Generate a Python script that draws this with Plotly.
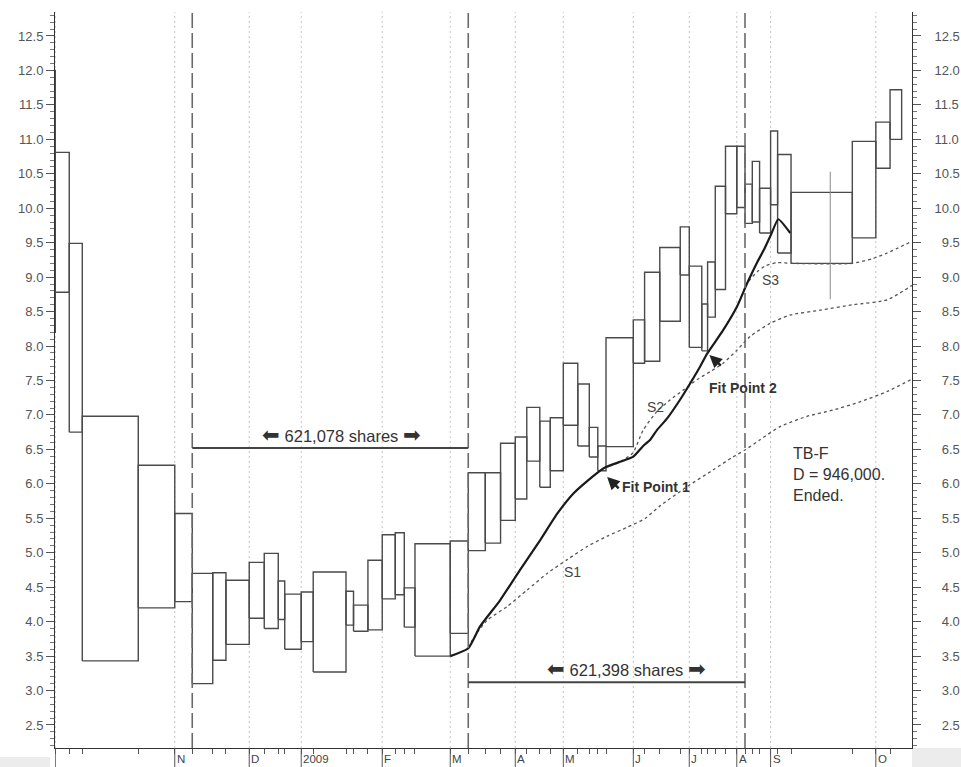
import plotly.graph_objects as go
import numpy as np

# ---------------- data ----------------
# Equivolume boxes: volume (thousand shares) = box width, high / low price
volume = [20.0, 31.5, 29.3, 126.0, 82.1, 39.4, 46.1, 29.7, 52.4, 33.8, 31.5, 14.6, 37.1, 27.0,
          73.8, 16.9, 32.4, 32.2, 29.3, 20.3, 24.1, 79.4, 40.5, 38.3, 34.4, 33.1, 25.9, 29.3,
          23.6, 29.3, 32.6, 25.9, 19.1, 18.5, 61.4, 25.4, 34.2, 46.1, 20.3, 28.1, 13.1, 17.3,
          23.0, 25.4, 18.5, 16.4, 16.4, 24.8, 15.8, 30.2, 137.9, 52.9, 32.0, 26.1]
high = [12.00, 10.81, 9.49, 6.98, 6.27, 5.57, 4.70, 4.71, 4.60, 4.86, 4.99, 4.59, 4.40, 4.43,
        4.72, 4.44, 4.24, 4.89, 5.26, 5.29, 4.49, 5.13, 5.17, 6.16, 6.16, 6.59, 6.68, 7.11,
        6.91, 6.96, 7.75, 7.45, 6.82, 6.55, 8.12, 8.38, 9.07, 9.43, 9.73, 9.16, 8.61, 9.22,
        10.32, 10.90, 10.90, 10.35, 10.68, 10.29, 11.12, 10.78, 10.23, 10.97, 11.25, 11.72]
low = [8.20, 8.78, 6.75, 3.43, 4.20, 4.29, 3.10, 3.44, 3.67, 4.05, 3.90, 4.03, 3.60, 3.71,
       3.27, 3.95, 3.86, 3.88, 4.33, 4.39, 3.92, 3.50, 3.83, 5.03, 5.14, 5.47, 5.78, 6.33,
       5.95, 6.19, 6.85, 6.55, 6.39, 6.19, 6.54, 7.75, 7.78, 8.36, 9.03, 7.98, 7.93, 8.42,
       8.82, 9.92, 10.01, 9.78, 9.80, 9.64, 10.05, 9.35, 9.20, 9.57, 10.58, 11.00]

# month labels and the box index where each month starts
month_labels = ["", "N", "D", "2009", "F", "M", "A", "M", "J", "J", "A", "S", "O"]
month_box = [1, 5, 9, 13, 18, 22, 26, 30, 35, 39, 44, 48, 52]

# dashed count boundaries (box index) and share counts between them
count_box = [6, 23, 45]
count_text = ["621,078 shares", "621,398 shares"]

# price tick values
price_ticks = [2.5, 3.0, 3.5, 4.0, 4.5, 5.0, 5.5, 6.0, 6.5, 7.0, 7.5, 8.0, 8.5, 9.0, 9.5,
               10.0, 10.5, 11.0, 11.5, 12.0, 12.5]

# fitted curve (cumulative volume, price)
fit_x = [889, 929, 956, 1001, 1046, 1091, 1130, 1166, 1197, 1235, 1271, 1300, 1323, 1339, 1354,
         1377, 1406, 1429, 1451, 1467, 1503, 1534, 1557, 1580, 1595, 1611, 1627, 1654]
fit_y = [3.50, 3.61, 3.93, 4.31, 4.75, 5.18, 5.57, 5.86, 6.04, 6.23, 6.32, 6.39, 6.55, 6.64, 6.78,
         6.95, 7.22, 7.46, 7.70, 7.89, 8.23, 8.57, 8.91, 9.22, 9.40, 9.62, 9.84, 9.64]

s1_x = [929, 945, 972, 1017, 1062, 1107, 1152, 1197, 1242, 1287, 1328, 1361, 1422, 1480, 1525,
        1552, 1586, 1631, 1692, 1750, 1811, 1872, 1928]
s1_y = [3.62, 3.80, 4.02, 4.22, 4.46, 4.70, 4.90, 5.09, 5.24, 5.37, 5.50, 5.68, 5.96, 6.20, 6.39,
        6.49, 6.64, 6.83, 6.98, 7.07, 7.19, 7.34, 7.52]

s2_x = [1235, 1271, 1300, 1323, 1354, 1384, 1413, 1444, 1474, 1503, 1534, 1564, 1609, 1654, 1721,
        1796, 1872, 1928]
s2_y = [6.23, 6.32, 6.45, 6.78, 7.05, 7.22, 7.36, 7.51, 7.63, 7.75, 7.94, 8.14, 8.33, 8.45, 8.52,
        8.60, 8.67, 8.88]

s3_x = [1467, 1503, 1534, 1557, 1580, 1597, 1624, 1656, 1793, 1840, 1872, 1928]
s3_y = [7.89, 8.23, 8.57, 8.91, 9.08, 9.16, 9.21, 9.20, 9.20, 9.27, 9.35, 9.52]

cursor_x = 1744
cursor_y = [8.68, 10.53]

# ---------------- geometry from data ----------------
vol = np.array(volume)
left = -vol[0] + np.concatenate([[0.0], np.cumsum(vol)[:-1]])
right = left + vol

X_MAX = 1928
Y_MIN, Y_MAX = 2.166, 12.848
ML, MR, MT, MB = 55, 49, 12, 19
W, H = 961, 767
PW, PH = W - ML - MR, H - MT - MB

FONT = "Liberation Sans, Arial, sans-serif"
DARK = "#333333"

bx, by = [], []
for l, r, h, lo in zip(left, right, high, low):
    bx += [l, r, r, l, l, None]
    by += [lo, lo, h, h, lo, None]

fig = go.Figure()

fig.add_trace(go.Scatter(x=bx, y=by, mode="lines",
                         line=dict(color="#4a4a4a", width=1.4), hoverinfo="skip"))
fig.add_trace(go.Scatter(x=[cursor_x, cursor_x], y=cursor_y, mode="lines",
                         line=dict(color="#888888", width=1), hoverinfo="skip"))
for sx, sy in [(s1_x, s1_y), (s2_x, s2_y), (s3_x, s3_y)]:
    fig.add_trace(go.Scatter(x=sx, y=sy, mode="lines",
                             line=dict(color="#555555", width=1.3, dash="3px,3px", shape="spline",
                                       smoothing=0.6),
                             hoverinfo="skip"))
fig.add_trace(go.Scatter(x=fit_x, y=fit_y, mode="lines",
                         line=dict(color="#1a1a1a", width=2.2, shape="spline", smoothing=0.5),
                         hoverinfo="skip"))
# invisible trace to display right axis
fig.add_trace(go.Scatter(x=[None], y=[None], yaxis="y2", showlegend=False))

shapes = []
# month grid + long ticks
for mb in month_box:
    xm = left[mb]
    shapes.append(dict(type="line", xref="x", yref="paper", x0=xm, x1=xm, y0=0, y1=1,
                       line=dict(color="#c4c4c4", width=1, dash="2px,3px"), layer="below"))
    shapes.append(dict(type="line", xref="x", yref="paper", x0=xm, x1=xm, y0=0, y1=-MB / PH,
                       line=dict(color="#555555", width=1)))
# dashed count boundaries
for cb in count_box:
    xc = left[cb]
    shapes.append(dict(type="line", xref="x", yref="paper", x0=xc, x1=xc, y0=0, y1=1,
                       line=dict(color="#6a6a6a", width=1.6, dash="15px,5px")))
# share count brackets
bracket_y = [6.52, 3.12]
for i in range(2):
    shapes.append(dict(type="line", xref="x", yref="y", x0=left[count_box[i]], x1=left[count_box[i + 1]],
                       y0=bracket_y[i], y1=bracket_y[i], line=dict(color="#444444", width=2)))
# gray corners below axis
shapes.append(dict(type="rect", xref="paper", yref="paper", x0=-ML / PW, x1=-5 / PW,
                   y0=-MB / PH, y1=-9 / PH, fillcolor="#ececec", line=dict(width=0), layer="below"))
shapes.append(dict(type="rect", xref="paper", yref="paper", x0=1.0, x1=1 + MR / PW,
                   y0=-MB / PH, y1=0, fillcolor="#ececec", line=dict(width=0), layer="below"))

annotations = []
for lab, mb in zip(month_labels, month_box):
    if lab:
        annotations.append(dict(x=left[mb], y=0, xref="x", yref="paper", text=lab, showarrow=False,
                                xanchor="left", yanchor="top", xshift=1, yshift=-4, borderpad=0,
                                font=dict(family=FONT, size=11.5, color="#444444")))

label_x = [645, 1286]
label_y = [6.72, 3.32]
for i in range(2):
    annotations.append(dict(x=label_x[i], y=label_y[i], xref="x", yref="y",
                            text="<span style='font-size:21px'>⬅</span> " + count_text[i]
                                 + " <span style='font-size:21px'>➡</span>",
                            showarrow=False,
                            font=dict(family=FONT, size=16.5, color=DARK)))

for t, xx, yy in [("S1", 1164, 4.72), ("S2", 1350, 7.12), ("S3", 1609, 8.96)]:
    annotations.append(dict(x=xx, y=yy, xref="x", yref="y", text=t, showarrow=False,
                            font=dict(family=FONT, size=14, color="#444444")))

annotations.append(dict(x=1271, y=5.95, xref="x", yref="y", text="<b>Fit Point 1</b>", showarrow=False,
                        xanchor="left", font=dict(family=FONT, size=14, color=DARK)))
annotations.append(dict(x=1466, y=7.39, xref="x", yref="y", text="<b>Fit Point 2</b>", showarrow=False,
                        xanchor="left", font=dict(family=FONT, size=14, color=DARK)))
# arrows
annotations.append(dict(x=1242, y=6.10, xref="x", yref="y", ax=13, ay=13, text="", showarrow=True,
                        arrowhead=2, arrowsize=1, arrowwidth=2.5, arrowcolor="#222222", standoff=0))
annotations.append(dict(x=1472, y=7.87, xref="x", yref="y", ax=13, ay=12, text="", showarrow=True,
                        arrowhead=2, arrowsize=1, arrowwidth=2.5, arrowcolor="#222222", standoff=0))

annotations.append(dict(x=1656, y=6.13, xref="x", yref="y", text="TB-F<br>D = 946,000.<br>Ended.",
                        showarrow=False, xanchor="left", align="left",
                        font=dict(family=FONT, size=16, color=DARK)))

yax_common = dict(range=[Y_MIN, Y_MAX],
                  ticks="outside", ticklen=8, tickcolor="#555555", tickwidth=1,
                  minor=dict(dtick=0.1, tick0=0, ticks="outside", ticklen=4, tickcolor="#777777"),
                  showgrid=False, zeroline=False, showline=True, linecolor="#333333", linewidth=1,
                  automargin=False,
                  tickfont=dict(family=FONT, size=13, color="#555555"))

left_text = [f"{v:.1f}" for v in price_ticks]
# right-side labels: pad so they end flush at the right
right_text = [("\u00a0" * (3 if v >= 10 else 5)) + f"{v:.1f}" for v in price_ticks]

fig.update_layout(
    width=W, height=H,
    margin=dict(l=ML, r=MR, t=MT, b=MB, pad=0, autoexpand=False),
    paper_bgcolor="white", plot_bgcolor="white",
    showlegend=False,
    xaxis=dict(range=[-0.6, X_MAX], showgrid=False, zeroline=False, showline=True,
               linecolor="#333333", linewidth=1, automargin=False,
               tickmode="array", tickvals=list(right[:-1]), ticks="outside", ticklen=5,
               tickcolor="#555555", showticklabels=False),
    yaxis=dict(side="left", tickmode="array", tickvals=price_ticks, ticktext=left_text, **yax_common),
    yaxis2=dict(overlaying="y", side="right", matches="y", tickmode="array",
                tickvals=price_ticks, ticktext=right_text, **yax_common),
    shapes=shapes,
    annotations=annotations,
)

fig.write_html("out.html", config={"displayModeBar": False},
               post_script="document.body.style.margin='0';document.body.style.overflow='hidden';")
